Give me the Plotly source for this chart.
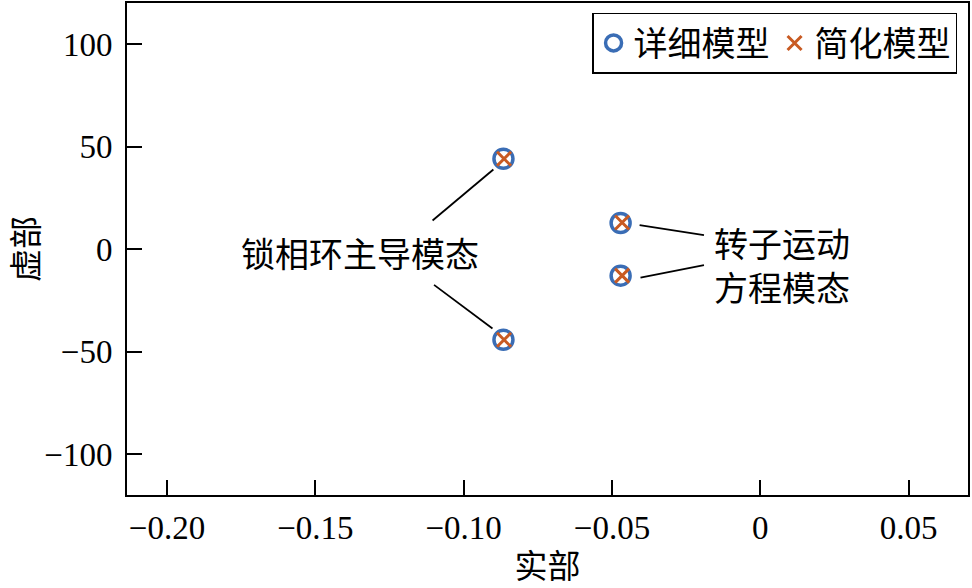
import plotly.graph_objects as go

# data
detailed_x = [-0.0866, -0.0866, -0.0471, -0.0471]
detailed_y = [44.0, -44.3, 12.7, -13.0]
simple_x = [-0.0864, -0.0864, -0.0466, -0.0466]
simple_y = [44.0, -44.3, 12.9, -13.0]

x_tickvals = [-0.20, -0.15, -0.10, -0.05, 0, 0.05]
x_ticktext = ["−0.20", "−0.15", "−0.10", "−0.05", "0", "0.05"]
y_tickvals = [-100, -50, 0, 50, 100]
y_ticktext = ["−100", "−50", "0", "50", "100"]

# leader lines (x0, y0, x1, y1) in data units
leader_lines = [
    (-0.0900, 38.8, -0.1105, 13.9),
    (-0.1100, -17.5, -0.0903, -38.8),
    (-0.0407, 11.7, -0.0190, 6.8),
    (-0.0404, -14.0, -0.0190, -7.9),
]
labels = [
    ("锁相环主导模态", -0.1350, -1.5, "center"),
    ("转子运动<br>方程模态", -0.0162, -7.7, "left"),
]

FONT = "Liberation Serif, Noto Sans CJK SC, serif"
CJK = "Noto Sans CJK SC, Liberation Serif, sans-serif"
BLUE = "#3A6DB5"
ORANGE = "#C85A22"

fig = go.Figure()
fig.add_trace(go.Scatter(
    x=detailed_x, y=detailed_y, mode="markers", name="详细模型",
    marker=dict(symbol="circle-open", size=19, color=BLUE, line=dict(width=3.5, color=BLUE)),
))
fig.add_trace(go.Scatter(
    x=simple_x, y=simple_y, mode="markers", name="简化模型",
    marker=dict(symbol="x-thin-open", size=14, color=ORANGE, line=dict(width=3, color=ORANGE)),
))

for x0, y0, x1, y1 in leader_lines:
    fig.add_shape(type="line", x0=x0, y0=y0, x1=x1, y1=y1, xref="x", yref="y",
                  line=dict(color="black", width=1.8))

for txt, x, y, anchor in labels:
    fig.add_annotation(text=txt, x=x, y=y, xref="x", yref="y", showarrow=False,
                       xanchor=anchor, yanchor="middle", align="left",
                       font=dict(family=CJK, size=34, color="black"))

fig.update_layout(
    width=972, height=588,
    margin=dict(l=127, r=4, t=1, b=93),
    paper_bgcolor="white", plot_bgcolor="white",
    font=dict(family=FONT, size=33, color="black"),
    showlegend=True,
    legend=dict(
        orientation="h", x=0.987, y=0.98, xanchor="right", yanchor="top",
        bgcolor="white", bordercolor="black", borderwidth=1.5,
        font=dict(family=CJK, size=34, color="black"),
        itemwidth=30, tracegroupgap=0,
    ),
)
fig.update_xaxes(
    range=[-0.2135, 0.07], tickvals=x_tickvals, ticktext=x_ticktext,
    ticks="inside", ticklen=15, tickwidth=1.5, tickcolor="black",
    showline=True, linecolor="black", linewidth=2, mirror=True,
    showgrid=False, zeroline=False,
    tickfont=dict(family=FONT, size=33), ticklabelstandoff=2,
    title=dict(text="实部", font=dict(family=CJK, size=33), standoff=6),
)
fig.update_yaxes(
    range=[-120, 120], tickvals=y_tickvals, ticktext=y_ticktext,
    ticks="inside", ticklen=15, tickwidth=1.5, tickcolor="black",
    showline=True, linecolor="black", linewidth=2, mirror=True,
    showgrid=False, zeroline=False,
    tickfont=dict(family=FONT, size=33), ticklabelstandoff=6,
    title=dict(text="虚部", font=dict(family=CJK, size=33), standoff=14),
)

fig.write_html("out.html")
